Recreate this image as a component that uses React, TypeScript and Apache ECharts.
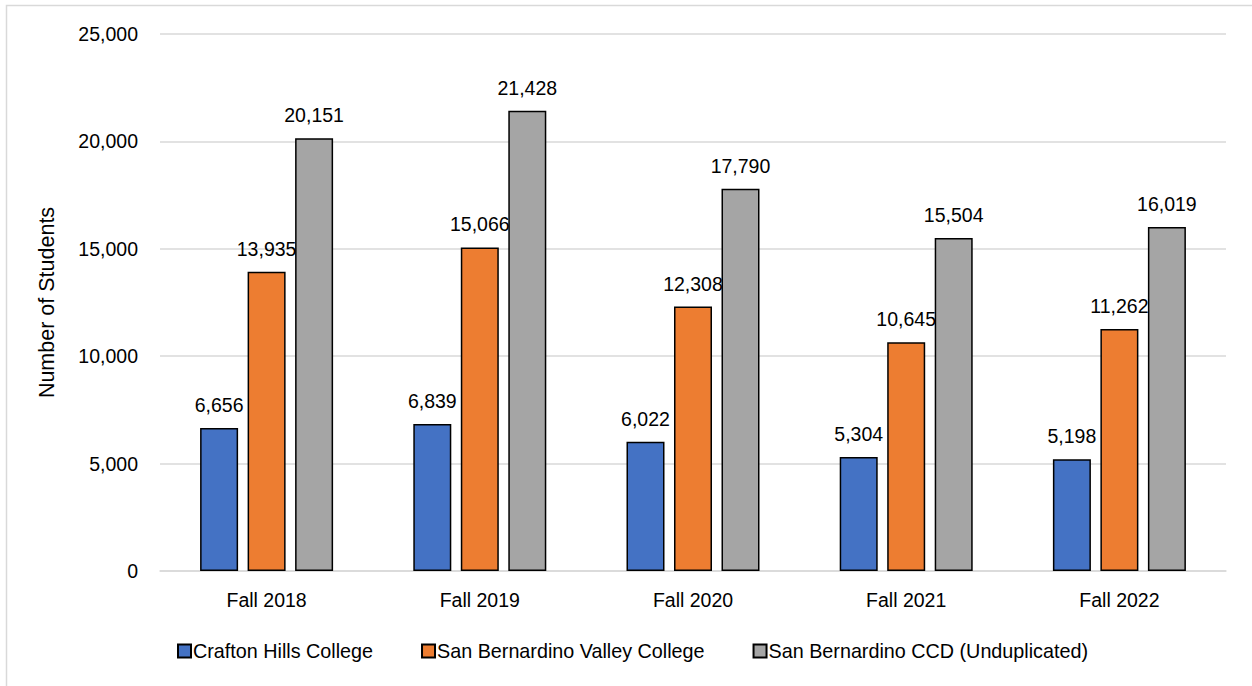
import React, { useEffect, useRef } from "react";
import * as echarts from "echarts";

const categories = ["Fall 2018", "Fall 2019", "Fall 2020", "Fall 2021", "Fall 2022"];
const seriesNames = [
  "Crafton Hills College",
  "San Bernardino Valley College",
  "San Bernardino CCD (Unduplicated)",
];
const craftonHills = [6656, 6839, 6022, 5304, 5198];
const sanBernardinoValley = [13935, 15066, 12308, 10645, 11262];
const sbccdUnduplicated = [20151, 21428, 17790, 15504, 16019];
const colors = ["#4472C4", "#ED7D31", "#A5A5A5"];

const fmt = (v: number) => Number(v).toLocaleString("en-US");

export default function App() {
  const ref = useRef<HTMLDivElement>(null);
  useEffect(() => {
    document.body.style.margin = "0";
    const chart = echarts.init(ref.current!, null, { renderer: "svg" });
    const font = "'Liberation Sans', Arial, sans-serif";
    const fs = 19.5;
    const dataSets = [craftonHills, sanBernardinoValley, sbccdUnduplicated];
    chart.setOption({
      animation: false,
      textStyle: { fontFamily: font },
      graphic: [
        {
          type: "rect",
          shape: { x: 6.5, y: 5.5, width: 1300, height: 700 },
          style: { fill: "none", stroke: "#D9D9D9", lineWidth: 1.5 },
          silent: true,
        },
      ],
      legend: {
        left: 172,
        top: 636,
        itemWidth: 13,
        itemHeight: 13,
        itemGap: 48,
        icon: "rect",
        textStyle: { fontSize: 19.75, color: "#000", fontFamily: font, padding: [0, 0, 0, -3] },
        data: seriesNames,
      },
      grid: { left: 160, right: 26, top: 34, bottom: 115, containLabel: false },
      xAxis: {
        type: "category",
        data: categories,
        axisLine: { lineStyle: { color: "#D9D9D9", width: 1.5 } },
        axisTick: { show: false },
        axisLabel: { fontSize: fs, color: "#000", margin: 19, fontFamily: font },
      },
      yAxis: {
        type: "value",
        min: 0,
        max: 25000,
        interval: 5000,
        name: "Number of Students",
        nameLocation: "middle",
        nameGap: 102,
        nameTextStyle: { fontSize: 21.5, color: "#000", fontFamily: font },
        axisLine: { show: false },
        axisTick: { show: false },
        splitLine: { lineStyle: { color: "#D9D9D9", width: 1.5 } },
        axisLabel: { fontSize: fs, color: "#000", margin: 22, formatter: fmt, fontFamily: font },
      },
      series: seriesNames.map((name, i) => ({
        name,
        type: "bar",
        data: dataSets[i],
        barWidth: 38,
        barGap: "25%",
        itemStyle: { color: colors[i], borderColor: "#000", borderWidth: 1.5 },
        label: {
          show: true,
          position: "top",
          distance: 13,
          fontSize: fs,
          color: "#000",
          fontFamily: font,
          formatter: (p: any) => fmt(p.value),
        },
      })),
    });
    return () => chart.dispose();
  }, []);
  return <div ref={ref} style={{ width: 1252, height: 686 }} />;
}
